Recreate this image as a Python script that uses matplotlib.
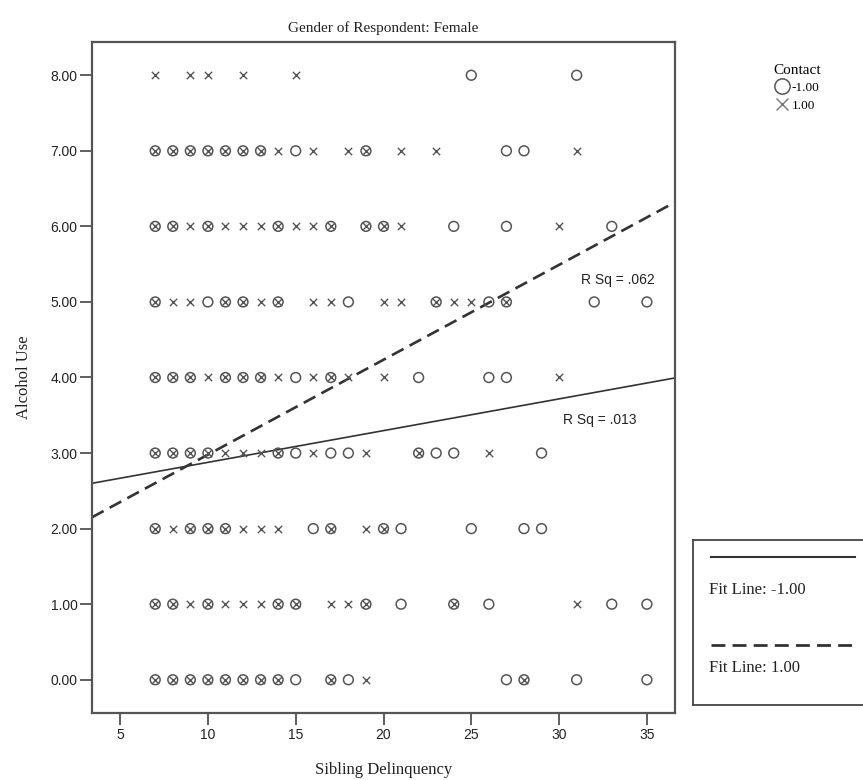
import numpy as np
from matplotlib import pyplot as plt
from matplotlib.lines import Line2D

# x values (Sibling Delinquency) at each Alcohol Use level, by Contact group
circle_x_by_alcohol = {
    8: [25, 31],
    7: [7, 8, 9, 10, 11, 12, 13, 15, 19, 27, 28],
    6: [7, 8, 10, 14, 17, 19, 20, 24, 27, 33],
    5: [7, 10, 11, 12, 14, 18, 23, 26, 27, 32, 35],
    4: [7, 8, 9, 11, 12, 13, 15, 17, 22, 26, 27],
    3: [7, 8, 9, 10, 14, 15, 17, 18, 22, 23, 24, 29],
    2: [7, 9, 10, 11, 16, 17, 20, 21, 25, 28, 29],
    1: [7, 8, 10, 14, 15, 19, 21, 24, 26, 33, 35],
    0: [7, 8, 9, 10, 11, 12, 13, 14, 15, 17, 18, 27, 28, 31, 35],
}
cross_x_by_alcohol = {
    8: [7, 9, 10, 12, 15],
    7: [7, 8, 9, 10, 11, 12, 13, 14, 16, 18, 19, 21, 23, 31],
    6: [7, 8, 9, 10, 11, 12, 13, 14, 15, 16, 17, 19, 20, 21, 30],
    5: [7, 8, 9, 11, 12, 13, 14, 16, 17, 20, 21, 23, 24, 25, 27],
    4: [7, 8, 9, 10, 11, 12, 13, 14, 16, 17, 18, 20, 30],
    3: [7, 8, 9, 10, 11, 12, 13, 14, 16, 19, 22, 26],
    2: [7, 8, 9, 10, 11, 12, 13, 14, 17, 19, 20],
    1: [7, 8, 9, 10, 11, 12, 13, 14, 15, 17, 18, 19, 24, 31],
    0: [7, 8, 9, 10, 11, 12, 13, 14, 17, 19, 28],
}

# fit lines (intercept, slope) and R squared
fit_neg = (2.457, 0.042)
fit_pos = (1.723, 0.1256)
rsq_neg = ".013"
rsq_pos = ".062"

x_ticks = [5, 10, 15, 20, 25, 30, 35]
y_ticks = [0, 1, 2, 3, 4, 5, 6, 7, 8]

serif = ['Liberation Serif', 'DejaVu Serif']
sans = ['Liberation Sans', 'DejaVu Sans']
mark_col = '#555555'
line_col = '#333333'

fig = plt.figure(figsize=(8.63, 7.80), dpi=100)
ax = fig.add_axes([92/863, 67/780, 583/863, 671/780])

cx, cy = [], []
for y, xs in circle_x_by_alcohol.items():
    cx += xs
    cy += [y] * len(xs)
kx, ky = [], []
for y, xs in cross_x_by_alcohol.items():
    kx += xs
    ky += [y] * len(xs)

ax.scatter(cx, cy, s=50, facecolors='none', edgecolors=mark_col, linewidths=1.1, zorder=3)
ax.scatter(kx, ky, s=28, marker='x', color=mark_col, linewidths=1.0, zorder=3)

ax.set_xlim(3.4, 36.6)
ax.set_ylim(-0.44, 8.44)

xs = np.array(ax.get_xlim())
ax.plot(xs, fit_neg[0] + fit_neg[1] * xs, color=line_col, lw=1.2, zorder=2)
ax.plot(xs, fit_pos[0] + fit_pos[1] * xs, color=line_col, lw=1.9,
        linestyle=(0, (5, 2.6)), zorder=2)

ax.text(35.45, 5.29, 'R Sq = ' + rsq_pos, family=sans, fontsize=10, ha='right', va='center', color='#222')
ax.text(34.4, 3.44, 'R Sq = ' + rsq_neg, family=sans, fontsize=10, ha='right', va='center', color='#222')

ax.set_xticks(x_ticks)
ax.set_yticks(y_ticks)
ax.set_yticklabels(['%.2f' % v for v in y_ticks])
ax.tick_params(direction='out', length=8.5, width=1.2, color='#444', pad=2,
               labelsize=10, labelcolor='#222')
for lab in ax.get_xticklabels() + ax.get_yticklabels():
    lab.set_family(sans)
for sp in ax.spines.values():
    sp.set_linewidth(1.6)
    sp.set_color('#555')

ax.set_title('Gender of Respondent: Female', family=serif, fontsize=11, pad=7, color='#222')
ax.set_xlabel('Sibling Delinquency', family=serif, fontsize=12, labelpad=15, color='#222')
ax.set_ylabel('Alcohol Use', family=serif, fontsize=12, labelpad=13, color='#222')

# Contact legend
handles = [
    Line2D([], [], ls='none', marker='o', markersize=11, markerfacecolor='none',
           markeredgecolor=mark_col, markeredgewidth=1.1, label='-1.00'),
    Line2D([], [], ls='none', marker='x', markersize=9, color='#777',
           markeredgewidth=1.0, label='1.00'),
]
leg = fig.legend(handles=handles, title='Contact', loc='upper left',
                 bbox_to_anchor=(767/863, 1 - 57/780), frameon=False,
                 prop={'family': serif, 'size': 9.5}, handlelength=0.9,
                 handletextpad=0.3, borderpad=0, labelspacing=0.4)
leg.get_title().set_family(serif)
leg.get_title().set_fontsize(11)

# fit line key box
box = fig.add_axes([693/863, 75/780, 190/863, 165/780])
box.set_xlim(0, 190)
box.set_ylim(165, 0)
box.set_xticks([])
box.set_yticks([])
for sp in box.spines.values():
    sp.set_linewidth(1.3)
    sp.set_color('#444')
box.plot([18, 162], [17, 17], color='#333', lw=1.5)
box.text(16, 50, 'Fit Line: -1.00', family=serif, fontsize=12, va='center', color='#222')
box.plot([18, 165], [105, 105], color='#333', lw=2, linestyle=(0, (5, 2.6)))
box.text(16, 128, 'Fit Line: 1.00', family=serif, fontsize=12, va='center', color='#222')

fig.savefig('out.png', dpi=100)
